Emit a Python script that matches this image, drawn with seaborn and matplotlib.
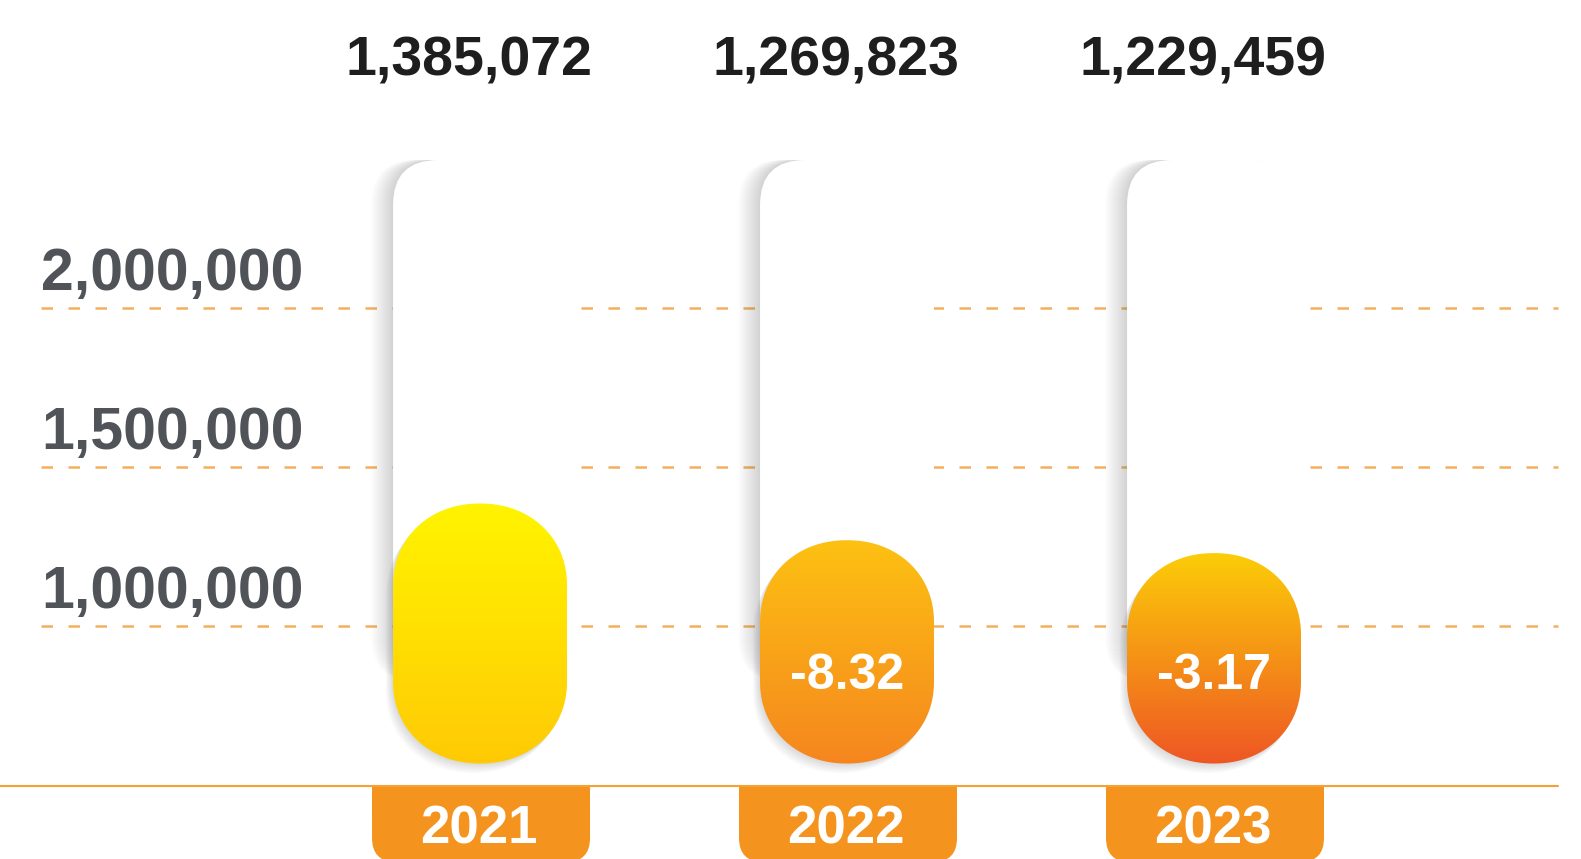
import numpy as np
import pandas as pd
import matplotlib
matplotlib.use("Agg")
import matplotlib.pyplot as plt
import matplotlib.transforms as mtransforms
from matplotlib.patches import FancyBboxPatch, Rectangle, PathPatch
from matplotlib.path import Path
from matplotlib.colors import LinearSegmentedColormap
import seaborn as sns

# ---- data ----
years = ["2021", "2022", "2023"]
totals = [1385072, 1269823, 1229459]
changes = [None, -8.32, -3.17]          # % change vs previous year
tick_values = [1000000, 1500000, 2000000]
tick_labels = ["1,000,000", "1,500,000", "2,000,000"]
baseline = 500000

# per-bar vertical gradients (top colour, bottom colour)
bar_gradients = [("#fff400", "#ffca05"),
                 ("#fdc112", "#f5861f"),
                 ("#fccd08", "#ee5624")]

W, H = 1581, 859
sns.set_theme(style="white")
plt.rcParams["font.family"] = ["Liberation Sans", "DejaVu Sans"]


def pill(x0, y0, w, h, ry, n=2.1):
    """Closed path of a pill with superelliptic ends (pixel units)."""
    rx = w / 2
    ry = min(ry, h / 2)
    xc = x0 + rx

    def arc(t):
        c, s = np.cos(t), np.sin(t)
        return (np.sign(c) * np.abs(c) ** (2 / n),
                np.sign(s) * np.abs(s) ** (2 / n))

    cx, sy = arc(np.linspace(0, np.pi, 90))
    top = np.column_stack([xc + rx * cx, y0 + h - ry + ry * sy])
    cx, sy = arc(np.linspace(np.pi, 2 * np.pi, 90))
    bot = np.column_stack([xc + rx * cx, y0 + ry + ry * sy])
    verts = np.vstack([top, bot, top[:1]])
    codes = [Path.MOVETO] + [Path.LINETO] * (len(verts) - 2) + [Path.CLOSEPOLY]
    return Path(verts, codes)


fig = plt.figure(figsize=(W / 100, H / 100), dpi=100)
fig.patch.set_facecolor("white")
ax = fig.add_axes([0, 0, 1, 1])
ax.set_facecolor("white")

df = pd.DataFrame({"year": years, "total": totals})
sns.barplot(data=df, x="year", y="total", ax=ax, width=0.474,
            color="#ffcc00", zorder=1)
bars = list(ax.patches)

ax.set_xlim(-1.308, 3.0)
ax.set_ylim(269500, 2965000)
ax.axis("off")

to_px = ax.transData.transform
to_data = ax.transData.inverted().transform
ident = mtransforms.IdentityTransform()

# ---- dashed gridlines ----
for v in tick_values:
    ax.axhline(v, xmin=41 / W, xmax=1558 / W, color="#f2a54c", lw=1.8,
               ls=(0, (4.6, 6.2)), alpha=0.9, zorder=0.5)

# ---- baseline ----
ax.axhline(baseline, xmin=0, xmax=1558 / W, color="#f4a236", lw=1.5, zorder=3)

# y labels sit just above their gridlines
ylab_tr = mtransforms.offset_copy(
    mtransforms.blended_transform_factory(ax.transAxes, ax.transData),
    fig=fig, x=0, y=18, units="dots")
for v, lab in zip(tick_values, tick_labels):
    ax.text(41 / W, v, lab, transform=ylab_tr, ha="left", va="baseline",
            fontsize=42.5, fontweight="bold", color="#505459", zorder=6)

base_px = to_px((0, baseline))[1]
bar_bottom_px = base_px + 22
tube_top_px = H - 160
end_ry = 82

for i, (p, (c_top, c_bot)) in enumerate(zip(bars, bar_gradients)):
    p.set_visible(False)
    x0, w, val = p.get_x(), p.get_width(), p.get_height()
    xc = x0 + w / 2
    px0, ptop = to_px((x0, val))
    px1, _ = to_px((x0 + w, val))
    pw = px1 - px0

    # white column with a soft shadow down its left side
    tube_y0 = bar_bottom_px + end_ry
    tube_h = tube_top_px - tube_y0
    for k in range(1, 23):
        ax.add_patch(FancyBboxPatch(
            (px0 - k, tube_y0), pw, tube_h,
            boxstyle="round,pad=0,rounding_size=45", transform=ident,
            facecolor="#6e7078", edgecolor="none", alpha=0.012, zorder=1.5))
    ax.add_patch(FancyBboxPatch(
        (px0, tube_y0), pw, tube_h,
        boxstyle="round,pad=0,rounding_size=45", transform=ident,
        facecolor="white", edgecolor="none", zorder=2))

    # drop shadow under the pill bar
    cap_h = ptop - bar_bottom_px
    for k in range(1, 13):
        ax.add_patch(PathPatch(
            pill(px0 - 0.6 * k, bar_bottom_px - 0.8 * k, pw, cap_h, end_ry),
            transform=ident, facecolor="#707078", edgecolor="none",
            alpha=0.018, zorder=2.5))

    # pill bar filled with a vertical gradient
    shape = PathPatch(pill(px0, bar_bottom_px, pw, cap_h, end_ry),
                      transform=ident, facecolor="none", edgecolor="none",
                      zorder=3)
    ax.add_patch(shape)
    cmap = LinearSegmentedColormap.from_list(f"g{i}", [c_bot, c_top])
    y_bot_data = to_data((px0, bar_bottom_px))[1]
    grad = np.linspace(0, 1, 256).reshape(-1, 1)
    im = ax.imshow(grad, extent=[x0, x0 + w, y_bot_data, val], origin="lower",
                   cmap=cmap, aspect="auto", interpolation="bicubic", zorder=3)
    im.set_clip_path(shape)

    # value above the column
    ax.text(xc - 0.03, 1 - 61 / H, f"{val:,.0f}",
            transform=mtransforms.blended_transform_factory(ax.transData, ax.transAxes),
            ha="center", va="center", fontsize=40, fontweight="bold",
            color="#1e1e1e", zorder=6)

    # year change inside the bar
    if changes[i] is not None:
        yc = to_data((px0, bar_bottom_px + 88))[1]
        ax.text(xc, yc, f"{changes[i]:.2f}", ha="center", va="center",
                fontsize=36, fontweight="bold", color="white", zorder=6)

    # orange year tab under the baseline
    tab_w = 218
    tcx = (px0 + px1) / 2 + 1
    tab_top = base_px - 1.5
    ax.add_patch(FancyBboxPatch(
        (tcx - tab_w / 2, -3), tab_w, tab_top + 3,
        boxstyle="round,pad=0,rounding_size=24", transform=ident,
        facecolor="#f5931f", edgecolor="none", zorder=4))
    ax.add_patch(Rectangle((tcx - tab_w / 2, tab_top - 30), tab_w, 30,
                           transform=ident, facecolor="#f5931f",
                           edgecolor="none", zorder=4))
    ax.text(tcx - 2, H - 830, years[i], transform=ident,
            ha="center", va="center", fontsize=38, fontweight="bold",
            color="white", zorder=6)

ax.set_xlim(-1.308, 3.0)
ax.set_ylim(269500, 2965000)

fig.savefig("out.png", dpi=100, facecolor="white")
